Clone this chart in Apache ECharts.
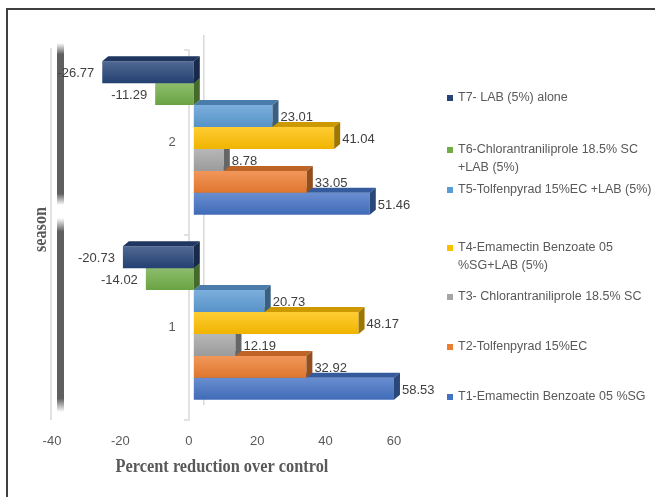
<!DOCTYPE html>
<html><head><meta charset="utf-8">
<script src="https://cdn.jsdelivr.net/npm/echarts@6/dist/echarts.min.js"></script>
<style>html,body{margin:0;padding:0;background:#fff}#c{width:655px;height:497px}</style>
</head><body><div id="c"></div>
<script>
// ---- data ----
const seasons = ['1', '2'];
const treatments = [
  'T1-Emamectin Benzoate 05 %SG',
  'T2-Tolfenpyrad 15%EC',
  'T3- Chlorantraniliprole 18.5% SC',
  'T4-Emamectin Benzoate 05 %SG+LAB (5%)',
  'T5-Tolfenpyrad 15%EC +LAB (5%)',
  'T6-Chlorantraniliprole 18.5% SC +LAB (5%)',
  'T7- LAB (5%) alone'
];
const legendLines = [
  ['T1-Emamectin Benzoate 05 %SG'],
  ['T2-Tolfenpyrad 15%EC'],
  ['T3- Chlorantraniliprole 18.5% SC'],
  ['T4-Emamectin Benzoate 05', '%SG+LAB (5%)'],
  ['T5-Tolfenpyrad 15%EC +LAB (5%)'],
  ['T6-Chlorantraniliprole 18.5% SC', '+LAB (5%)'],
  ['T7- LAB (5%) alone']
];
const season1 = [58.53, 32.92, 12.19, 48.17, 20.73, -14.02, -20.73];
const season2 = [51.46, 33.05, 8.78, 41.04, 23.01, -11.29, -26.77];
const xMin = -40, xMax = 60, xStep = 20;
const xTitle = 'Percent reduction over control';
const yTitle = 'season';

// ---- style ----
const colors = ['#4472C4', '#ED7D31', '#A5A5A5', '#FFC000', '#5B9BD5', '#70AD47', '#264478'];
const legendY = [397, 347, 297, 248, 190, 150, 98];
const DX = 6, DY = -5, SHIFT_X = 5, SHIFT_Y = -4.5;
const LABEL_FONT = '13px "Liberation Sans", Arial, sans-serif';

function mix(hex, t) {
  const n = parseInt(hex.slice(1), 16);
  const r = n >> 16 & 255, g = n >> 8 & 255, b = n & 255;
  const f = c => Math.round(t >= 0 ? c + (255 - c) * t : c * (1 + t));
  return 'rgb(' + f(r) + ',' + f(g) + ',' + f(b) + ')';
}

function makeRender(i) {
  return function (params, api) {
    const v = api.value(0);
    const c = api.value(1);
    const p0 = api.coord([0, c]);
    const p1 = api.coord([v, c]);
    const band = api.size([0, 1])[1];
    const h = band * 0.1185;
    const y0 = p0[1] - 3.5 * h + SHIFT_Y + (6 - i) * h;
    const xa = Math.min(p0[0], p1[0]) + SHIFT_X;
    const xb = Math.max(p0[0], p1[0]) + SHIFT_X;
    const base = colors[i];
    const children = [
      { type: 'rect', shape: { x: xa, y: y0, width: xb - xa, height: h },
        style: { fill: { type: 'linear', x: 0, y: 0, x2: 0, y2: 1,
          colorStops: [{ offset: 0, color: mix(base, 0.2) }, { offset: 1, color: mix(base, -0.06) }] } } },
      { type: 'polygon', shape: { points: [[xa, y0], [xa + DX, y0 + DY], [xb + DX, y0 + DY], [xb, y0]] },
        style: { fill: mix(base, -0.2) } },
      { type: 'polygon', shape: { points: [[xb, y0], [xb + DX, y0 + DY], [xb + DX, y0 + h + DY], [xb, y0 + h]] },
        style: { fill: mix(base, -0.38) } },
      { type: 'text', z2: 100,
        style: { text: v.toFixed(2), x: v >= 0 ? xb + DX + 2 : xa - 8, y: y0 + h / 2 + 1.5,
          align: v >= 0 ? 'left' : 'right', verticalAlign: 'middle', fill: '#404040', font: LABEL_FONT } }
    ];
    return { type: 'group', children: children };
  };
}

const series = treatments.map((name, i) => ({
  type: 'custom',
  name: name,
  zlevel: 1,
  itemStyle: { color: colors[i] },
  renderItem: makeRender(i),
  encode: { x: 0, y: 1 },
  data: [[season1[i], seasons[0]], [season2[i], seasons[1]]]
}));

const legends = treatments.map((name, i) => {
  const lines = legendLines[i];
  const shown = lines.length > 1 ? [' '].concat(lines) : lines;
  return {
    data: [name], orient: 'vertical', left: 447,
    top: legendY[i] - shown.length * 18 / 2,
    itemWidth: 6, itemHeight: 6, icon: 'rect', padding: 0, selectedMode: false,
    formatter: () => shown.join('\n'),
    textStyle: { color: '#595959', fontSize: 12.5, lineHeight: 18, fontFamily: '"Liberation Sans", Arial, sans-serif' }
  };
});

const chart = echarts.init(document.getElementById('c'), null, { renderer: 'canvas' });
chart.setOption({
  backgroundColor: '#ffffff',
  animation: false,
  grid: { left: 52, right: 261, top: 50, bottom: 77 },
  xAxis: {
    type: 'value', min: xMin, max: xMax, interval: xStep,
    axisLine: { show: false }, axisTick: { show: false }, splitLine: { show: false },
    axisLabel: { color: '#595959', fontSize: 13, margin: 15, fontFamily: '"Liberation Sans", Arial, sans-serif' }
  },
  yAxis: {
    type: 'category', data: seasons,
    axisLine: { show: true, onZero: false, lineStyle: { color: '#d9d9d9', width: 1.5 } },
    axisTick: { show: true, length: 5, lineStyle: { color: '#d9d9d9', width: 1.5 } },
    axisLabel: { color: '#595959', fontSize: 13, margin: 13, fontFamily: '"Liberation Sans", Arial, sans-serif' }
  },
  legend: legends,
  series: series
});

// place the category axis on the value axis' zero, and decorative frame from the scales
const gridRect = chart.getModel().getComponent('grid').coordinateSystem.getRect();
const xLeft = chart.convertToPixel({ xAxisIndex: 0 }, xMin);
const xRight = chart.convertToPixel({ xAxisIndex: 0 }, xMax);
const xZero = chart.convertToPixel({ xAxisIndex: 0 }, 0);
const gTop = gridRect.y, gBot = gridRect.y + gridRect.height;
function fade(c) {
  return { type: 'linear', x: 0, y: 0, x2: 0, y2: 1, colorStops: [
    { offset: 0, color: 'rgba(95,95,95,0)' }, { offset: 0.07, color: c },
    { offset: 0.93, color: c }, { offset: 1, color: 'rgba(95,95,95,0)' }] };
}
chart.setOption({
  yAxis: { offset: -(xZero - gridRect.x) },
  graphic: [
    { type: 'rect', shape: { x: 7, y: 9, width: 700, height: 560 }, style: { fill: 'none', stroke: '#3f3f3f', lineWidth: 2 }, silent: true },
    { type: 'line', shape: { x1: xLeft - 1, y1: gTop - 2, x2: xLeft - 1, y2: gBot }, style: { stroke: '#d9d9d9', lineWidth: 1.5 }, silent: true },
    { type: 'line', shape: { x1: xZero + 15, y1: gTop - 15, x2: xZero + 15, y2: gBot - 15 }, style: { stroke: '#d9d9d9', lineWidth: 1.5 }, silent: true },
    { type: 'rect', shape: { x: xLeft + 5, y: gTop - 7, width: 7, height: 162 }, style: { fill: fade('#5f5f5f') }, silent: true },
    { type: 'rect', shape: { x: xLeft + 5, y: gTop + 168, width: 7, height: 194 }, style: { fill: fade('#5f5f5f') }, silent: true },
    { type: 'text', x: (xLeft + xRight) / 2 - 1, y: 467, scaleX: 0.86,
      style: { text: xTitle, font: 'bold 19px "Liberation Serif", "Times New Roman", serif', fill: '#595959', align: 'center', verticalAlign: 'middle' }, silent: true },
    { type: 'text', x: 41, y: 229.5, rotation: Math.PI / 2, scaleX: 0.85,
      style: { text: yTitle, font: 'bold 19px "Liberation Serif", "Times New Roman", serif', fill: '#595959', align: 'center', verticalAlign: 'middle' }, silent: true }
  ]
});
</script>
</body></html>
